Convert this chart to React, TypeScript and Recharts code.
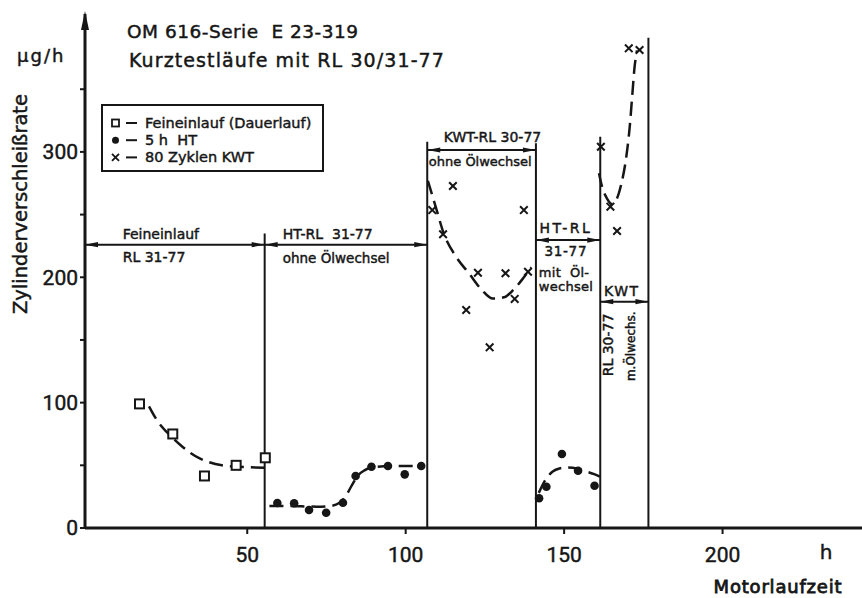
import React from 'react';
import {
  ComposedChart,
  Line,
  Scatter,
  XAxis,
  YAxis,
  ReferenceLine,
  ReferenceDot,
} from 'recharts';

// ---- measured values: running time (h) vs. cylinder wear rate (µg/h) ----
const feineinlaufPoints = [
  [16, 99], [26.5, 75], [36.5, 41.5], [46.5, 50], [55.7, 56],
];
const htPointsA = [
  [59.5, 20], [64.8, 19.7], [69.5, 14.4], [74.9, 12.2], [80.2, 20.2],
  [84.2, 41.5], [89.2, 48.9], [94.4, 49.5], [99.7, 42.8], [104.9, 49.5],
];
const htPointsB = [
  [142.1, 23.7], [144.4, 32.9], [149.3, 59], [154.4, 45.7], [159.6, 33.7],
];
const kwtPointsA = [
  [108.4, 253.6], [111.8, 234.3], [114.9, 272.8], [119.1, 173.9], [122.8, 203.6],
  [126.5, 144.1], [131.5, 203.2], [134.4, 182.7], [137.3, 253.6], [138.6, 204.4],
];
const kwtPointsB = [
  [161.6, 304.1], [164.6, 256.3], [166.7, 236.9], [170.4, 382.6], [173.8, 381.3],
];

// ---- trend curves (dashed) ----
const feineinlaufTrend = [
  [19, 97], [21, 88], [23, 81], [26, 73], [29, 66], [32, 60], [35, 55.5],
  [38, 52.5], [42, 50], [46, 49], [50, 48.5], [55.5, 48],
];
const htTrendA = [
  [57, 17.5], [62, 17.5], [67, 17.3], [72, 17], [76, 17.5], [79, 20], [81, 25],
  [83, 34], [85, 42], [87, 46], [90, 48.5], [95, 49.5], [100, 49.5], [106, 49.5],
];
const htTrendB = [
  [142, 28], [144, 38], [146.4, 45], [148.5, 47.5], [151, 48.3], [154, 47.5],
  [157, 45], [159.5, 43], [161.3, 41],
];
const kwtTrendA = [
  [107, 277], [109.5, 256], [112, 235], [116, 216], [120, 203], [124, 190],
  [127.5, 183], [131, 184], [134, 190], [137, 199], [139.6, 208],
];
const kwtTrendB = [
  [161, 283], [162, 272], [163.5, 263], [165, 258.5], [166.5, 262], [168, 274],
  [169.5, 294], [170.7, 320], [171.5, 345], [172.2, 367], [173, 381],
];

// ---- test phases: boundaries (h) with the height of their divider lines ----
const phaseBounds = [55.5, 106.8, 141.1, 161.4, 176.6];
const phaseTops = [235, 308, 307, 312, 391];
// double arrows spanning each phase: [from h, to h, level µg/h]
const phaseSpans = [
  [-1.2, 55.5, 226],
  [55.5, 106.8, 226],
  [106.8, 141.1, 301.5],
  [141.1, 161.4, 229.7],
  [161.4, 176.6, 180.5],
];

// ---- axes ----
const X_MIN = -1.2;
const X_MAX = 244;
const Y_MAX = 410;
const xTicks = [50, 100, 150, 200];
const yTicks = [0, 50, 100, 150, 200, 250, 300, 350];

const toPts = (rows: number[][]) => rows.map(([x, y]) => ({ x, y }));

const INK = '#161616';
const FONT = '"DejaVu Sans", sans-serif';
const NUM_FONT = 'Roboto, sans-serif';
// slight outline gives the lettering its pen weight
const PEN = { stroke: INK, strokeWidth: 0.45 };

// phase captions, anchored in chart coordinates
type Caption = { text: string; x: number; y: number; size?: number; spacing?: number; rotate?: boolean };
const captions: Caption[] = [
  { text: 'Feineinlauf', x: 10.7, y: 234.5 },
  { text: 'RL 31-77', x: 10.7, y: 215.8 },
  { text: 'HT-RL  31-77', x: 61.2, y: 234.5 },
  { text: 'ohne Ölwechsel', x: 61.2, y: 215.4, size: 13.5 },
  { text: 'KWT-RL 30-77', x: 112, y: 311.5 },
  { text: 'ohne Ölwechsel', x: 107.3, y: 292, size: 13 },
  { text: 'HT-RL', x: 142.2, y: 239.3, spacing: 2.5 },
  { text: '31-77', x: 143.8, y: 221, size: 13.5, spacing: 0.7 },
  { text: 'mit  Öl-', x: 142, y: 204, size: 13, spacing: 0.3 },
  { text: 'wechsel', x: 142, y: 192.8, size: 13, spacing: 0.3 },
  { text: 'KWT', x: 162.6, y: 189, spacing: 1.5 },
  { text: 'RL 30-77', x: 164, y: 146, rotate: true },
  { text: 'm.Ölwechs.', x: 171, y: 145, size: 12, rotate: true },
];

const SquareMark = (p: any) => (
  <rect x={p.cx - 4.5} y={p.cy - 4.5} width={9} height={9} fill="#fff" stroke={INK} strokeWidth={2} />
);
const DotMark = (p: any) => <circle cx={p.cx} cy={p.cy} r={4.3} fill={INK} />;
const CrossMark = (p: any) => {
  const s = 3.8;
  return (
    <path
      d={`M${p.cx - s},${p.cy - s}L${p.cx + s},${p.cy + s}M${p.cx - s},${p.cy + s}L${p.cx + s},${p.cy - s}`}
      stroke={INK}
      strokeWidth={2}
      fill="none"
    />
  );
};

const SpanArrow = (p: any) => {
  const { x1, y1, x2, y2 } = p;
  const L = 13;
  const W = 2.6;
  return (
    <g>
      <line x1={x1} y1={y1} x2={x2} y2={y2} stroke={INK} strokeWidth={2} />
      <path d={`M${x1},${y1}L${x1 + L},${y1 - W}L${x1 + L},${y1 + W}Z`} fill={INK} />
      <path d={`M${x2},${y2}L${x2 - L},${y2 - W}L${x2 - L},${y2 + W}Z`} fill={INK} />
    </g>
  );
};

const AxisArrow = (p: any) => (
  <path d={`M${p.cx},${p.cy - 3}L${p.cx - 4},${p.cy + 16}L${p.cx + 4},${p.cy + 16}Z`} fill={INK} />
);

const captionShape = (c: Caption) => (p: any) => {
  const size = c.size ?? 14;
  if (c.rotate) {
    return (
      <text
        x={p.cx}
        y={p.cy}
        transform={`rotate(-90 ${p.cx} ${p.cy})`}
        textAnchor="middle"
        dominantBaseline="central"
        fontFamily={FONT}
        fontSize={size}
        fill={INK}
        {...PEN}
      >
        {c.text}
      </text>
    );
  }
  return (
    <text
      x={p.cx}
      y={p.cy}
      dominantBaseline="central"
      fontFamily={FONT}
      fontSize={size}
      letterSpacing={c.spacing ?? 0}
      fill={INK}
      {...PEN}
      style={{ whiteSpace: 'pre' }}
    >
      {c.text}
    </text>
  );
};

const trendLine = (rows: number[][], key: string) => (
  <Line
    key={key}
    data={toPts(rows)}
    dataKey="y"
    type="monotone"
    stroke={INK}
    strokeWidth={2.5}
    strokeDasharray="14 7"
    dot={false}
    activeDot={false}
    isAnimationActive={false}
  />
);

const legendRows = [
  { label: 'Feineinlauf (Dauerlauf)', mark: 'square' },
  { label: '5 h  HT', mark: 'dot' },
  { label: '80 Zyklen KWT', mark: 'cross' },
];

export default function App() {
  return (
    <div style={{ position: 'absolute', left: 0, top: 0, width: 862, height: 598, background: '#fff' }}>
      <ComposedChart width={862} height={598} margin={{ top: 14, right: 0, bottom: 0, left: 0 }}>
        <XAxis
          type="number"
          dataKey="x"
          domain={[X_MIN, X_MAX]}
          ticks={xTicks}
          allowDataOverflow
          height={70}
          axisLine={{ stroke: INK, strokeWidth: 3 }}
          tickLine={{ stroke: INK, strokeWidth: 2 }}
          tickSize={6}
          tickMargin={13}
          tick={{ fill: INK, fontSize: 21, fontFamily: NUM_FONT, ...PEN }}
        />
        <YAxis
          type="number"
          dataKey="y"
          domain={[0, Y_MAX]}
          ticks={yTicks}
          interval={0}
          allowDataOverflow
          width={85}
          axisLine={{ stroke: INK, strokeWidth: 3 }}
          tickLine={{ stroke: INK, strokeWidth: 2 }}
          tickSize={5}
          tickMargin={2}
          tickFormatter={(v: number) => (v % 100 === 0 ? String(v) : '')}
          tick={{ fill: INK, fontSize: 21, fontFamily: NUM_FONT, ...PEN }}
        />

        {phaseBounds.map((x, i) => (
          <ReferenceLine
            key={`b${i}`}
            segment={[{ x, y: 0 }, { x, y: phaseTops[i] }]}
            stroke={INK}
            strokeWidth={2}
            ifOverflow="visible"
          />
        ))}
        {phaseSpans.map(([a, b, lvl], i) => (
          <ReferenceLine
            key={`s${i}`}
            segment={[{ x: a, y: lvl }, { x: b, y: lvl }]}
            shape={SpanArrow}
            ifOverflow="visible"
          />
        ))}
        {captions.map((c, i) => (
          <ReferenceDot key={`c${i}`} x={c.x} y={c.y} r={0} ifOverflow="visible" shape={captionShape(c)} />
        ))}
        <ReferenceDot x={X_MIN} y={Y_MAX} r={0} ifOverflow="visible" shape={AxisArrow} />

        {trendLine(feineinlaufTrend, 't1')}
        {trendLine(htTrendA, 't2')}
        {trendLine(htTrendB, 't3')}
        {trendLine(kwtTrendA, 't4')}
        {trendLine(kwtTrendB, 't5')}

        <Scatter data={toPts(feineinlaufPoints)} dataKey="y" shape={SquareMark} isAnimationActive={false} />
        <Scatter data={toPts(htPointsA)} dataKey="y" shape={DotMark} isAnimationActive={false} />
        <Scatter data={toPts(htPointsB)} dataKey="y" shape={DotMark} isAnimationActive={false} />
        <Scatter data={toPts(kwtPointsA)} dataKey="y" shape={CrossMark} isAnimationActive={false} />
        <Scatter data={toPts(kwtPointsB)} dataKey="y" shape={CrossMark} isAnimationActive={false} />
      </ComposedChart>

      {/* titles, axis captions and legend */}
      <svg
        width={862}
        height={598}
        style={{ position: 'absolute', left: 0, top: 0, pointerEvents: 'none' }}
      >
        <text x={127} y={37.5} fontFamily={FONT} fontSize={18.5} letterSpacing={0.5} fill={INK} {...PEN} style={{ whiteSpace: 'pre' }}>
          OM 616-Serie  E 23-319
        </text>
        <text x={129} y={67} fontFamily={FONT} fontSize={19} letterSpacing={1.1} fill={INK} {...PEN}>
          Kurztestläufe mit RL 30/31-77
        </text>
        <text x={17} y={62} fontFamily={FONT} fontSize={18} letterSpacing={2} fill={INK} {...PEN}>
          µg/h
        </text>
        <text
          x={20}
          y={204}
          transform="rotate(-90 20 204)"
          textAnchor="middle"
          dominantBaseline="central"
          fontFamily={FONT}
          fontSize={19.5}
          fill={INK}
          {...PEN}
        >
          Zylinderverschleißrate
        </text>
        <text x={826} y={559} textAnchor="middle" fontFamily={FONT} fontSize={20} fill={INK} {...PEN}>
          h
        </text>
        <text
          x={778}
          y={593}
          textAnchor="middle"
          fontFamily={FONT}
          fontSize={18}
          letterSpacing={0.8}
          fill={INK}
          stroke={INK}
          strokeWidth={0.8}
        >
          Motorlaufzeit
        </text>

        <rect x={102} y={105} width={221} height={66} fill="#fff" stroke={INK} strokeWidth={2} />
        {legendRows.map((r, i) => {
          const cy = 123 + i * 17.2;
          const mark =
            r.mark === 'square' ? (
              <rect x={112} y={cy - 3.5} width={7} height={7} fill="#fff" stroke={INK} strokeWidth={1.8} />
            ) : r.mark === 'dot' ? (
              <circle cx={115.5} cy={cy} r={3.5} fill={INK} />
            ) : (
              <path d={`M112,${cy - 3.5}L119,${cy + 3.5}M112,${cy + 3.5}L119,${cy - 3.5}`} stroke={INK} strokeWidth={1.8} />
            );
          return (
            <g key={r.label}>
              {mark}
              <line x1={126} y1={cy} x2={137} y2={cy} stroke={INK} strokeWidth={2} />
              <text
                x={145}
                y={cy}
                dominantBaseline="central"
                fontFamily={FONT}
                fontSize={14.5}
                fill={INK}
                {...PEN}
                style={{ whiteSpace: 'pre' }}
              >
                {r.label}
              </text>
            </g>
          );
        })}
      </svg>
    </div>
  );
}
